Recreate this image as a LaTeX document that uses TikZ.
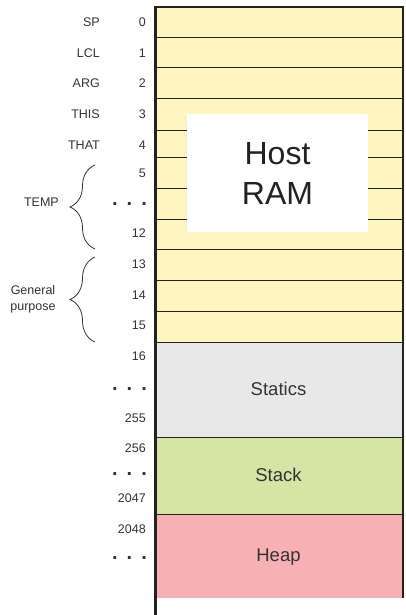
\documentclass[tikz,border=0pt]{standalone}
\usepackage{fontspec}
\setmainfont{Liberation Sans}
\usetikzlibrary{decorations.pathreplacing}
\definecolor{ramyellow}{RGB}{252,245,192}
\definecolor{staticgray}{RGB}{232,232,232}
\definecolor{stackgreen}{RGB}{214,228,166}
\definecolor{heappink}{RGB}{247,176,179}
\definecolor{textgray}{RGB}{51,51,51}
\definecolor{linegray}{RGB}{34,34,34}
\newcommand{\rowdots}{.\hspace{9pt}.\hspace{9pt}.}

\begin{document}
\begin{tikzpicture}[x=1pt,y=-1pt,
  lbl/.style={anchor=east,inner sep=0pt,text=textgray,font=\fontsize{12.5}{16}\selectfont},
  dts/.style={anchor=base east,inner sep=0pt,text=textgray,font=\fontsize{20}{20}\selectfont\bfseries},
  seg/.style={text=textgray,font=\fontsize{18.5}{22}\selectfont},
  cell/.style={draw=linegray,line width=1pt},
  brc/.style={decorate,decoration={brace,amplitude=25pt},draw=textgray,line width=0.8pt}]
\useasboundingbox (0,0) rectangle (405,615);
% memory segments
\fill[ramyellow] (154,7) rectangle (403,342);
\fill[staticgray] (154,342) rectangle (403,437);
\fill[stackgreen] (154,437) rectangle (403,514);
\fill[heappink] (154,514) rectangle (403,598);
\draw[cell] (154,38) -- (403,38);
\draw[cell] (154,68) -- (403,68);
\draw[cell] (154,99) -- (403,99);
\draw[cell] (154,130) -- (403,130);
\draw[cell] (154,157) -- (403,157);
\draw[cell] (154,188) -- (403,188);
\draw[cell] (154,219) -- (403,219);
\draw[cell] (154,249) -- (403,249);
\draw[cell] (154,280) -- (403,280);
\draw[cell] (154,311) -- (403,311);
\draw[cell] (154,342) -- (403,342);
\draw[cell] (154,437) -- (403,437);
\draw[cell] (154,514) -- (403,514);
\draw[line width=2pt,linegray] (154,7) -- (403,7) -- (403,598);
\draw[line width=3pt,linegray] (155.5,6) -- (155.5,615);
\node[fill=white,inner sep=0pt,minimum width=181pt,minimum height=118pt,
  text=linegray,font=\fontsize{32}{40}\selectfont,align=center] (host) at (277.5,173) {Host\\RAM};
\node[seg] (statics) at (278.5,389) {Statics};
\node[seg] (stack) at (278.5,475) {Stack};
\node[seg] (heap) at (278.5,557) {Heap};
% register names
\node[lbl] (sp) at (100,22) {SP};
\node[lbl] (lcl) at (100,53) {LCL};
\node[lbl] (arg) at (100,83) {ARG};
\node[lbl] (this) at (100,114) {THIS};
\node[lbl] (that) at (100,145) {THAT};
\node[lbl] (temp) at (59,202) {TEMP};
\node[text=textgray,font=\fontsize{12.5}{16}\selectfont,align=center,inner sep=0pt] (gp) at (33,299) {General\\purpose};
% addresses
\node[lbl] (n0) at (146,22) {0};
\node[lbl] (n1) at (146,53) {1};
\node[lbl] (n2) at (146,83) {2};
\node[lbl] (n3) at (146,114) {3};
\node[lbl] (n4) at (146,145) {4};
\node[lbl] (n5) at (146,173) {5};
\node[dts] (d1) at (147,205) {\rowdots};
\node[lbl] (n12) at (146,233) {12};
\node[lbl] (n13) at (146,264) {13};
\node[lbl] (n14) at (146,295) {14};
\node[lbl] (n15) at (146,325) {15};
\node[lbl] (n16) at (146,356) {16};
\node[dts] (d2) at (147,390) {\rowdots};
\node[lbl] (n255) at (146,418) {255};
\node[lbl] (n256) at (146,448) {256};
\node[dts] (d3) at (147,475) {\rowdots};
\node[lbl] (n2047) at (146,498) {2047};
\node[lbl] (n2048) at (146,529) {2048};
\node[dts] (d4) at (147,559) {\rowdots};
% braces
\coordinate (tempbot) at (95,249);
\coordinate (temptop) at (95,165);
\coordinate (gpbot) at (95,342);
\coordinate (gptop) at (95,257);
\draw[brc] (tempbot) -- (temptop);
\draw[brc] (gpbot) -- (gptop);
\end{tikzpicture}
\end{document}
